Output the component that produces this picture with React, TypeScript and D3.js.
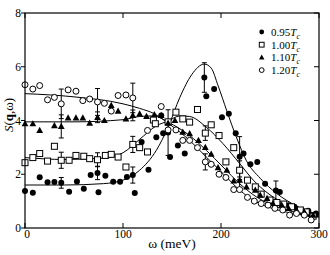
import React from "react";
import * as d3 from "d3";

// [omega, S, error?]
const s095: number[][] = [
  [0, 1.38], [8, 1.31], [15, 1.89], [23, 1.7], [30, 1.71], [37, 1.68, 0.2], [45, 1.35], [53, 1.73],
  [60, 1.46], [67, 1.97], [74, 2.05, 0.25], [75, 1.33], [82, 1.94], [90, 1.72], [97, 1.72], [104, 1.9],
  [110, 1.97, 0.3], [112, 1.3], [119, 3.2], [126, 2.17], [134, 3.38], [139, 4.19], [141, 3.53],
  [146, 3.55, 0.85], [148, 2.64], [156, 3.07], [163, 2.77], [183, 5.6, 0.55], [185, 4.9], [193, 5.17],
  [201, 4.12], [208, 4.25], [215, 3.53], [219, 2.65, 0.75], [223, 2.77], [230, 2.37], [237, 2.46],
  [245, 1.65], [256, 1.4, 0.35], [260, 1.34], [269, 0.85], [275, 0.79], [282, 0.6], [289, 0.64],
  [290, 0.52], [297, 0.54],
];
const s100: number[][] = [
  [0, 2.43], [8, 2.62], [15, 2.77], [23, 2.49], [30, 3.04], [37, 2.52, 0.3], [45, 2.52], [52, 2.7],
  [60, 2.67], [66, 2.58], [74, 2.54, 0.26], [82, 2.7], [88, 2.74], [95, 2.64], [103, 2.27],
  [110, 3.11, 0.3], [117, 2.99], [125, 2.83], [131, 4.02], [133, 3.88], [146, 3.95], [154, 4.31],
  [161, 4.06], [168, 3.94], [176, 4.41], [184, 3.53, 0.27], [190, 3.84], [198, 3.44], [205, 2.46],
  [213, 2.99], [219, 2.15, 0.35], [227, 1.78], [235, 1.53], [241, 1.26], [250, 1.04], [257, 0.95],
  [264, 0.89], [272, 0.79], [281, 0.67], [287, 0.6], [294, 0.44],
];
const s110: number[][] = [
  [0, 3.88], [8, 3.88], [15, 3.63], [30, 3.81], [37, 3.78, 0.43], [44, 4.1], [52, 4.1], [59, 4.1],
  [66, 3.9], [74, 4.12, 0.2], [81, 4.0], [88, 4.56], [95, 4.35], [103, 4.06], [110, 4.19, 0.2],
  [117, 4.25], [124, 4.15], [132, 4.22], [139, 4.19], [146, 3.9], [153, 4.0], [161, 3.57], [168, 3.51],
  [177, 3.26], [184, 3.0], [190, 2.75], [197, 2.25], [206, 2.15], [213, 1.75], [219, 1.78, 0.3],
  [226, 1.53], [235, 1.41], [240, 1.22], [247, 1.1], [253, 0.91], [262, 0.85], [269, 0.73], [277, 0.67],
  [285, 0.6], [294, 0.48],
];
const s120: number[][] = [
  [0, 5.33], [8, 5.17], [15, 5.3], [23, 4.77], [30, 4.86], [37, 4.62, 0.55], [44, 5.14], [52, 5.09],
  [59, 4.74], [66, 4.8], [74, 4.69, 0.5], [81, 4.64], [88, 4.35], [95, 4.93], [103, 4.95],
  [110, 4.84, 0.55], [125, 3.63], [139, 4.52], [146, 3.65], [154, 3.65], [161, 3.26], [168, 3.26],
  [176, 2.99], [184, 2.46, 0.3], [190, 2.37], [198, 2.0], [205, 1.88], [213, 1.43], [219, 1.43],
  [227, 1.14], [234, 1.0], [241, 0.91], [248, 0.85], [255, 0.73], [263, 0.67], [270, 0.48], [277, 0.54],
  [285, 0.48], [292, 0.3],
];

const fit095: number[][] = [
  [0, 1.6], [40, 1.6], [80, 1.65], [100, 1.78], [117, 2.15], [134, 2.89], [146, 3.75], [158, 4.86],
  [170, 5.7], [183, 6.1], [190, 5.95], [197, 5.3], [206, 4.35], [216, 3.35], [226, 2.5], [240, 1.85],
  [257, 1.28], [277, 0.82], [300, 0.48],
];
const fit100: number[][] = [
  [0, 2.62], [40, 2.55], [80, 2.6], [100, 2.8], [117, 3.3], [134, 3.8], [146, 3.98], [158, 4.17],
  [168, 4.15], [185, 3.75], [202, 3.14], [219, 2.4], [233, 1.78], [240, 1.53], [260, 1.0], [280, 0.7],
  [300, 0.48],
];
const fit110: number[][] = [
  [0, 3.95], [50, 3.95], [100, 4.03], [117, 4.15], [132, 4.17], [146, 3.94], [168, 3.44], [185, 2.89],
  [202, 2.27], [219, 1.65], [236, 1.16], [260, 0.75], [280, 0.55], [300, 0.42],
];
const fit120: number[][] = [
  [0, 5.0], [50, 4.88], [100, 4.62], [117, 4.45], [132, 4.25], [146, 3.9], [168, 3.26], [185, 2.64],
  [202, 2.03], [219, 1.41], [236, 0.97], [260, 0.65], [280, 0.5], [300, 0.4],
];

const legendLabels = ["0.95", "1.00", "1.10", "1.20"];
const xTicks = [0, 100, 200, 300];
const yTicks = [0, 2, 4, 6, 8];

const W = 330, H = 255;
const left = 25, right = 319, top = 13, bottom = 228;

function Marker({ kind, x, y, s = 1 }: { kind: number; x: number; y: number; s?: number }) {
  if (kind === 0) return <circle cx={x} cy={y} r={3 * s} fill="#000" />;
  if (kind === 1)
    return <rect x={x - 3 * s} y={y - 3 * s} width={6 * s} height={6 * s} fill="#fff" stroke="#000" strokeWidth={1} />;
  if (kind === 2)
    return <path d={`M${x},${y - 3.6 * s}L${x + 3.4 * s},${y + 2.6 * s}L${x - 3.4 * s},${y + 2.6 * s}Z`} fill="#000" />;
  return <circle cx={x} cy={y} r={3 * s} fill="#fff" stroke="#000" strokeWidth={1} />;
}

export default function App() {
  const xs = d3.scaleLinear().domain([0, 300]).range([left, right]);
  const ys = d3.scaleLinear().domain([0, 8]).range([bottom, top]);
  const line = d3.line<number[]>().x((d) => xs(d[0])).y((d) => ys(d[1])).curve(d3.curveMonotoneX);
  const series = [s095, s100, s110, s120];
  const fits = [fit095, fit100, fit110, fit120];
  const font = "'Liberation Serif', 'Times New Roman', serif";

  return (
    <svg width={W} height={H} style={{ position: "absolute", left: 0, top: 0, background: "#fff" }} fontFamily={font}>
      <rect x={0} y={0} width={W} height={H} fill="#fff" />
      {fits.map((f, i) => (
        <path key={i} d={line(f) || ""} fill="none" stroke="#000" strokeWidth={1} />
      ))}
      {series.map((s, k) =>
        s.filter((d) => d.length > 2).map((d, j) => {
          const x = xs(d[0]);
          const y1 = ys(d[1] - d[2]);
          const y2 = ys(d[1] + d[2]);
          return (
            <g key={`e${k}-${j}`} stroke="#000" strokeWidth={1}>
              <line x1={x} x2={x} y1={y1} y2={y2} />
              <line x1={x - 2.5} x2={x + 2.5} y1={y1} y2={y1} />
              <line x1={x - 2.5} x2={x + 2.5} y1={y2} y2={y2} />
            </g>
          );
        })
      )}
      {series.map((s, k) =>
        s.map((d, j) => <Marker key={`m${k}-${j}`} kind={k} x={xs(d[0])} y={ys(d[1])} />)
      )}
      {/* frame */}
      <rect x={left} y={top} width={right - left} height={bottom - top} fill="none" stroke="#000" strokeWidth={1.2} />
      {xTicks.map((t) => (
        <g key={`xt${t}`}>
          <line x1={xs(t)} x2={xs(t)} y1={bottom} y2={bottom - 5} stroke="#000" />
          <line x1={xs(t)} x2={xs(t)} y1={top} y2={top + 5} stroke="#000" />
          <text x={xs(t) + (t === 0 ? 2 : 0)} y={237.5} fontSize={11.5} textAnchor="middle">{t}</text>
        </g>
      ))}
      {yTicks.map((t) => (
        <g key={`yt${t}`}>
          <line x1={left - 4} x2={left} y1={ys(t)} y2={ys(t)} stroke="#000" />
          <line x1={right - 5} x2={right} y1={ys(t)} y2={ys(t)} stroke="#000" />
          <text x={21} y={ys(t) + 4} fontSize={11.5} textAnchor="end">{t}</text>
        </g>
      ))}
      <text x={172} y={248} fontSize={13.5} textAnchor="middle">ω (meV)</text>
      <text transform="translate(13,115) rotate(-90)" fontSize={13} textAnchor="middle">
        <tspan fontStyle="italic">S</tspan>
        <tspan>(</tspan>
        <tspan fontWeight="bold">q</tspan>
        <tspan>,ω)</tspan>
      </text>
      {legendLabels.map((l, i) => {
        const y = 32 + i * 12.7;
        return (
          <g key={`lg${i}`}>
            <Marker kind={i} x={261.7} y={y} s={0.8} />
            <text x={271} y={y + 4} fontSize={11}>
              {l}
              <tspan fontStyle="italic">T</tspan>
              <tspan fontStyle="italic" fontSize={8} dy={3}>c</tspan>
            </text>
          </g>
        );
      })}
    </svg>
  );
}
